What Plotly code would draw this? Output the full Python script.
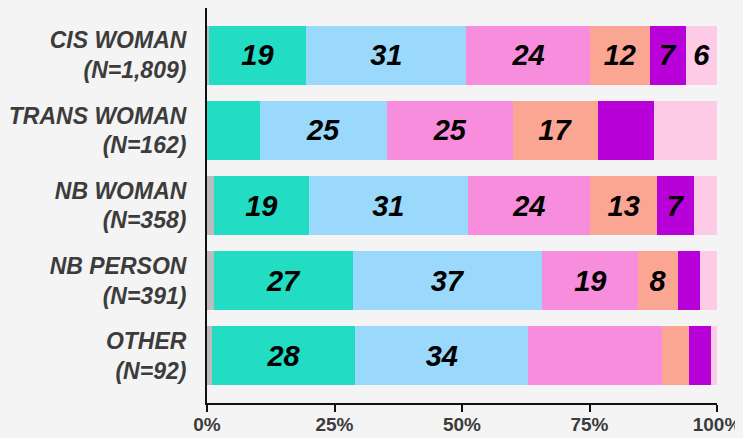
import plotly.graph_objects as go

categories = ["CIS WOMAN<br>(N=1,809)", "TRANS WOMAN<br>(N=162)", "NB WOMAN<br>(N=358)",
              "NB PERSON<br>(N=391)", "OTHER<br>(N=92)"]

series_names = ["Missing", "Level 1", "Level 2", "Level 3", "Level 4", "Level 5", "Level 6"]
gray_vals   = [0.3, 0.0, 1.3, 1.3, 0.9]
teal_vals   = [19.2, 10.3, 18.7, 27.4, 28.2]
blue_vals   = [31.3, 24.9, 31.1, 37.0, 33.9]
pink_vals   = [24.3, 24.8, 24.0, 18.9, 26.2]
salmon_vals = [11.7, 16.6, 13.2, 7.7, 5.3]
purple_vals = [7.2, 11.0, 7.2, 4.4, 4.3]
lpink_vals  = [6.0, 12.4, 4.5, 3.3, 1.2]

gray_lbl   = ["", "", "", "", ""]
teal_lbl   = ["19", "", "19", "27", "28"]
blue_lbl   = ["31", "25", "31", "37", "34"]
pink_lbl   = ["24", "25", "24", "19", ""]
salmon_lbl = ["12", "17", "13", "8", ""]
purple_lbl = ["7", "", "7", "", ""]
lpink_lbl  = ["6", "", "", "", ""]

x_tick_vals = [0, 25, 50, 75, 100]
x_tick_text = ["0%", "25%", "50%", "75%", "100%"]

colors = ["#bdbdbd", "#22dcc4", "#9ad9fb", "#f78ddc", "#fba593", "#b800d8", "#fdcbe6"]
values = [gray_vals, teal_vals, blue_vals, pink_vals, salmon_vals, purple_vals, lpink_vals]
labels = [gray_lbl, teal_lbl, blue_lbl, pink_lbl, salmon_lbl, purple_lbl, lpink_lbl]

fig = go.Figure()
for name, vals, lbl, col in zip(series_names, values, labels, colors):
    fig.add_trace(go.Bar(
        y=categories, x=vals, name=name, orientation="h",
        marker=dict(color=col, line=dict(width=0)),
        text=lbl, textposition="inside", insidetextanchor="middle", textangle=0,
        textfont=dict(family="Liberation Sans", size=29, color="#000000",
                      weight="bold", style="italic"),
        hoverinfo="x+y",
    ))

# page body has an 8px margin, so the figure is sized to fit inside the window
fig.update_layout(
    barmode="stack",
    bargap=0.22,
    showlegend=False,
    width=735, height=430,
    margin=dict(l=199, r=26, t=0, b=35, autoexpand=False),
    paper_bgcolor="#f4f4f4",
    plot_bgcolor="#f4f4f4",
    font=dict(family="Liberation Sans"),
)
fig.update_xaxes(
    range=[0, 100], tickmode="array", tickvals=x_tick_vals, ticktext=x_tick_text,
    showgrid=False, zeroline=False, automargin=False,
    showline=True, linecolor="#111111", linewidth=2,
    ticks="outside", ticklen=7, tickwidth=1.5, tickcolor="#111111",
    ticklabelstandoff=-4,
    tickfont=dict(family="Liberation Sans", size=19, color="#3c3c3c", weight="bold"),
)
fig.update_yaxes(
    range=[4.63, -0.63], showgrid=False, zeroline=False, automargin=False,
    showline=True, linecolor="#111111", linewidth=2,
    ticks="", ticklabelstandoff=14,
    tickfont=dict(family="Liberation Sans", size=23, color="#3c3c3c",
                  weight="bold", style="italic"),
)

fig.write_html("out.html", post_script="document.body.style.background='#f4f4f4';")
